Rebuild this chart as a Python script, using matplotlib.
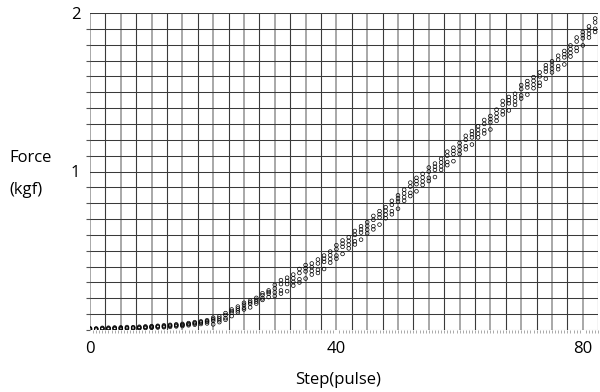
import matplotlib
matplotlib.use('Agg')
import matplotlib.pyplot as plt
import matplotlib.ticker as mticker
import numpy as np

# step positions (pulse) and four repeated force measurements (kgf)
steps = list(range(0, 83))

force_run1 = [
    0.011, 0.010, 0.014, 0.015, 0.016, 0.017, 0.019, 0.018, 0.021, 0.023,
    0.025, 0.027, 0.030, 0.033, 0.036, 0.039, 0.044, 0.050, 0.055, 0.062,
    0.068, 0.086, 0.107, 0.120, 0.148, 0.172, 0.175, 0.203, 0.232, 0.240,
    0.285, 0.315, 0.310, 0.350, 0.385, 0.390, 0.420, 0.445, 0.450, 0.495,
    0.535, 0.545, 0.585, 0.625, 0.635, 0.680, 0.720, 0.730, 0.775, 0.815,
    0.830, 0.885, 0.930, 0.940, 0.985, 1.025, 1.030, 1.080, 1.125, 1.130,
    1.180, 1.225, 1.235, 1.285, 1.325, 1.330, 1.390, 1.445, 1.450, 1.490,
    1.545, 1.550, 1.595, 1.625, 1.650, 1.695, 1.730, 1.740, 1.795, 1.845,
    1.860, 1.915, 1.965,
]
force_run2 = [
    0.002, 0.001, 0.004, 0.004, 0.006, 0.006, 0.008, 0.008, 0.010, 0.012,
    0.014, 0.016, 0.018, 0.020, 0.023, 0.025, 0.030, 0.034, 0.038, 0.042,
    0.036, 0.050, 0.075, 0.088, 0.112, 0.140, 0.143, 0.167, 0.200, 0.208,
    0.215, 0.250, 0.245, 0.280, 0.320, 0.325, 0.350, 0.380, 0.385, 0.425,
    0.470, 0.480, 0.515, 0.560, 0.570, 0.610, 0.655, 0.665, 0.705, 0.750,
    0.765, 0.815, 0.865, 0.875, 0.915, 0.960, 0.965, 1.010, 1.060, 1.065,
    1.110, 1.160, 1.170, 1.215, 1.260, 1.265, 1.320, 1.380, 1.385, 1.420,
    1.480, 1.485, 1.525, 1.560, 1.585, 1.625, 1.665, 1.675, 1.725, 1.780,
    1.795, 1.845, 1.900,
]
force_run3 = [
    0.005, 0.006, 0.008, 0.009, 0.010, 0.011, 0.012, 0.013, 0.014, 0.017,
    0.018, 0.021, 0.022, 0.026, 0.028, 0.031, 0.036, 0.041, 0.046, 0.051,
    0.078, 0.074, 0.095, 0.130, 0.136, 0.160, 0.185, 0.191, 0.220, 0.250,
    0.262, 0.290, 0.330, 0.327, 0.360, 0.410, 0.397, 0.420, 0.470, 0.472,
    0.510, 0.565, 0.562, 0.600, 0.655, 0.657, 0.695, 0.750, 0.752, 0.790,
    0.850, 0.862, 0.905, 0.960, 0.962, 1.000, 1.050, 1.057, 1.100, 1.150,
    1.157, 1.200, 1.255, 1.262, 1.300, 1.350, 1.367, 1.420, 1.470, 1.467,
    1.520, 1.570, 1.572, 1.600, 1.670, 1.672, 1.705, 1.760, 1.772, 1.820,
    1.880, 1.892, 1.940,
]
force_run4 = [
    0.008, 0.007, 0.011, 0.011, 0.013, 0.013, 0.015, 0.016, 0.017, 0.019,
    0.022, 0.023, 0.025, 0.029, 0.032, 0.034, 0.039, 0.045, 0.050, 0.056,
    0.058, 0.062, 0.065, 0.110, 0.124, 0.130, 0.165, 0.179, 0.190, 0.230,
    0.238, 0.230, 0.290, 0.303, 0.300, 0.370, 0.373, 0.360, 0.430, 0.448,
    0.450, 0.525, 0.538, 0.540, 0.615, 0.633, 0.635, 0.710, 0.728, 0.730,
    0.810, 0.838, 0.845, 0.920, 0.938, 0.940, 1.010, 1.033, 1.040, 1.110,
    1.133, 1.140, 1.215, 1.238, 1.240, 1.310, 1.343, 1.360, 1.430, 1.443,
    1.460, 1.530, 1.548, 1.540, 1.630, 1.648, 1.645, 1.720, 1.748, 1.760,
    1.840, 1.868, 1.880,
]

x_ticks = [0, 40, 80]
y_ticks = [1, 2]

plt.rcParams['font.family'] = ['Open Sans', 'DejaVu Sans']

fig = plt.figure(figsize=(6.0, 3.92), dpi=100)
ax = fig.add_axes([0.15, 0.158, 0.847, 0.809])

for run in (force_run1, force_run2, force_run3, force_run4):
    ax.scatter(steps, run, s=7, facecolors='none', edgecolors='black',
               linewidths=0.5, zorder=3)

ax.set_xlim(0, 82.5)
ax.set_ylim(0, 2)

ax.xaxis.set_major_locator(mticker.FixedLocator(x_ticks))
ax.yaxis.set_major_locator(mticker.FixedLocator(y_ticks))
ax.xaxis.set_minor_locator(mticker.MultipleLocator(0.5))
ax.yaxis.set_minor_locator(mticker.MultipleLocator(0.1))

# grid drawn by hand; the reference alternates light and dark verticals
for i, xv in enumerate(np.arange(0, 82.6, 2.5)):
    col = '#9a9a9a' if i % 2 == 0 else '#3a3a3a'
    ax.axvline(xv, color=col, linewidth=0.8 if i % 2 else 1.2, zorder=1)
for yv in np.arange(0, 2.01, 0.1):
    ax.axhline(yv, color='#3a3a3a', linewidth=0.75, zorder=1)

for side in ('top', 'right', 'bottom', 'left'):
    ax.spines[side].set_visible(False)

ax.tick_params(axis='both', which='major', length=0, labelsize=12)
ax.tick_params(axis='x', which='major', pad=8)
ax.tick_params(axis='y', which='major', pad=7)
ax.tick_params(axis='x', which='minor', length=2, width=0.5, color='#888888')
ax.tick_params(axis='y', which='minor', length=3, width=0.8, color='#555555')

fig.text(0.016, 0.597, 'Force', fontsize=12, ha='left', va='center')
fig.text(0.016, 0.515, '(kgf)', fontsize=12, ha='left', va='center')
fig.text(0.563, 0.03, 'Step(pulse)', fontsize=12, ha='center', va='center')

fig.savefig('out.png', dpi=100)
plt.close(fig)
